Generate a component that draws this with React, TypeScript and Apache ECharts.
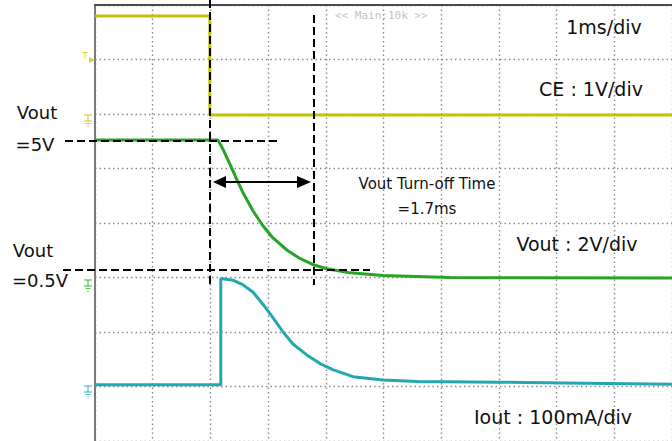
import React, { useEffect, useRef } from "react";
import * as echarts from "echarts";

// Time base: 1 ms/div, 10 divisions
const timeTicks = [0, 1, 2, 3, 4, 5, 6, 7, 8, 9, 10];

// CE (1 V/div)
const ceTime = [0, 1.99, 1.99, 10];
const ceVolts = [1.8, 1.8, -0.02, -0.02];

// Vout (2 V/div)
const voutTime = [0, 2.13, 2.22, 2.34, 2.46, 2.56, 2.74, 2.91, 3.08, 3.33, 3.55, 3.78, 4.02, 4.42, 4.99, 6.15, 10];
const voutVolts = [5.05, 5.05, 4.7, 4.15, 3.58, 3.13, 2.44, 1.9, 1.46, 1.0, 0.7, 0.47, 0.32, 0.17, 0.07, 0.0, -0.02];

// Iout (100 mA/div)
const ioutTime = [0, 2.18, 2.18, 2.39, 2.56, 2.74, 2.91, 3.08, 3.26, 3.43, 3.67, 3.9, 4.12, 4.47, 4.99, 5.58, 7, 8.5, 10];
const ioutMilliamps = [3, 3, 198, 195, 187, 173, 151, 127, 100, 78, 58, 42, 31, 18, 12, 9, 8, 6, 4];

const COL_CE = "#c2c200";
const COL_VOUT = "#25a525";
const COL_IOUT = "#22a8ae";

const FONT = "DejaVu Sans";

function pairs(t: number[], v: number[]) {
  return t.map((x, i) => [x, v[i]]);
}

function ground(x: number, y: number, color: string) {
  const st = { stroke: color, lineWidth: 1.2, opacity: 0.75 };
  return [
    { type: "line", shape: { x1: x - 4, y1: y, x2: x + 4, y2: y }, style: st, z: 20 },
    { type: "line", shape: { x1: x, y1: y, x2: x, y2: y + 6 }, style: st, z: 20 },
    { type: "line", shape: { x1: x - 4, y1: y + 6, x2: x + 4, y2: y + 6 }, style: st, z: 20 },
    { type: "line", shape: { x1: x - 2.5, y1: y + 8.5, x2: x + 2.5, y2: y + 8.5 }, style: st, z: 20 },
    { type: "line", shape: { x1: x - 1, y1: y + 11, x2: x + 1, y2: y + 11 }, style: st, z: 20 },
  ];
}

function dashed(x1: number, y1: number, x2: number, y2: number) {
  return {
    type: "line",
    shape: { x1, y1, x2, y2 },
    style: { stroke: "#000", lineWidth: 2, lineDash: [8, 4] },
    z: 30,
  };
}

function label(text: string, x: number, y: number, size: number) {
  return {
    type: "text",
    x,
    y,
    style: {
      text,
      fill: "#111",
      font: `${size}px "${FONT}"`,
      textAlign: "center",
      textVerticalAlign: "middle",
    },
    z: 40,
  };
}

export default function App() {
  const ref = useRef<HTMLDivElement>(null);
  useEffect(() => {
    if (!ref.current) return;
    const chart = echarts.init(ref.current, undefined, { renderer: "svg" });
    const gridLine = { show: true, lineStyle: { color: "#8a8a8a", width: 1.4, type: [1.5, 3] as any } };
    const hiddenAxis = (min: number, max: number) => ({
      type: "value",
      min,
      max,
      show: false,
      splitLine: { show: false },
    });

    const graphic: any[] = [
      // annotation dashed lines
      dashed(210, 0, 210, 285),
      dashed(314, 15, 314, 285),
      dashed(65, 141, 280, 141),
      dashed(63, 270, 370, 270),
      // double-headed arrow
      { type: "line", shape: { x1: 222, y1: 182, x2: 300, y2: 182 }, style: { stroke: "#000", lineWidth: 2 }, z: 30 },
      { type: "polygon", shape: { points: [[213, 182], [226, 176], [226, 188]] }, style: { fill: "#000" }, z: 30 },
      { type: "polygon", shape: { points: [[311, 182], [297, 176], [297, 188]] }, style: { fill: "#000" }, z: 30 },
      // labels
      label("1ms/div", 604, 27, 19),
      label("CE : 1V/div", 591, 89, 19),
      label("Vout : 2V/div", 577, 244, 19),
      label("Iout : 100mA/div", 553, 417, 19),
      label("Vout Turn-off Time", 427, 184, 15),
      label("=1.7ms", 427, 209, 15),
      label("Vout", 37, 112, 18),
      label("=5V", 35, 144, 18),
      label("Vout", 33, 250, 18),
      label("=0.5V", 40, 280, 18),
      {
        type: "text",
        x: 335,
        y: 15,
        style: {
          text: "<< Main:10k >>",
          fill: "#c4c4c4",
          font: '11px "DejaVu Sans Mono"',
          textAlign: "left",
          textVerticalAlign: "middle",
        },
        z: 40,
      },
      // trigger marker
      {
        type: "text",
        x: 85,
        y: 56,
        style: { text: "T", fill: COL_CE, opacity: 0.75, font: `9px "${FONT}"`, textAlign: "center", textVerticalAlign: "middle" },
        z: 20,
      },
      { type: "polygon", shape: { points: [[89, 57], [95, 60], [89, 63]] }, style: { fill: COL_CE, opacity: 0.75 }, z: 20 },
      ...ground(88, 115, COL_CE),
      ...ground(88, 280, COL_VOUT),
      ...ground(88, 386, COL_IOUT),
    ];

    chart.setOption({
      animation: false,
      backgroundColor: "#ffffff",
      grid: { left: 95, right: 0, top: 5, bottom: -4, containLabel: false },
      xAxis: {
        type: "value",
        position: "top",
        min: timeTicks[0],
        max: timeTicks[timeTicks.length - 1],
        interval: 1,
        axisLine: { show: true, onZero: false, lineStyle: { color: "#4a4a4a", width: 2 } },
        axisTick: { show: false },
        axisLabel: { show: false },
        splitLine: gridLine,
      },
      yAxis: [
        {
          type: "value",
          min: 0,
          max: 8,
          interval: 1,
          position: "left",
          axisLine: { show: true, onZero: false, lineStyle: { color: "#7a7a7a", width: 2 } },
          axisTick: { show: false },
          axisLabel: { show: false },
          splitLine: gridLine,
        },
        hiddenAxis(-6, 2),
        hiddenAxis(-6, 10),
        hiddenAxis(-100, 700),
      ],
      series: [
        {
          name: "CE",
          type: "line",
          yAxisIndex: 1,
          showSymbol: false,
          data: pairs(ceTime, ceVolts),
          lineStyle: { color: COL_CE, width: 3 },
          z: 5,
        },
        {
          name: "Vout",
          type: "line",
          yAxisIndex: 2,
          showSymbol: false,
          data: pairs(voutTime, voutVolts),
          lineStyle: { color: COL_VOUT, width: 3 },
          z: 6,
        },
        {
          name: "Iout",
          type: "line",
          yAxisIndex: 3,
          showSymbol: false,
          data: pairs(ioutTime, ioutMilliamps),
          lineStyle: { color: COL_IOUT, width: 3 },
          z: 5,
        },
      ],
      graphic,
    });
    return () => chart.dispose();
  }, []);
  return (
    <div
      ref={ref}
      style={{ position: "fixed", left: 0, top: 0, width: 672, height: 441 }}
    />
  );
}
